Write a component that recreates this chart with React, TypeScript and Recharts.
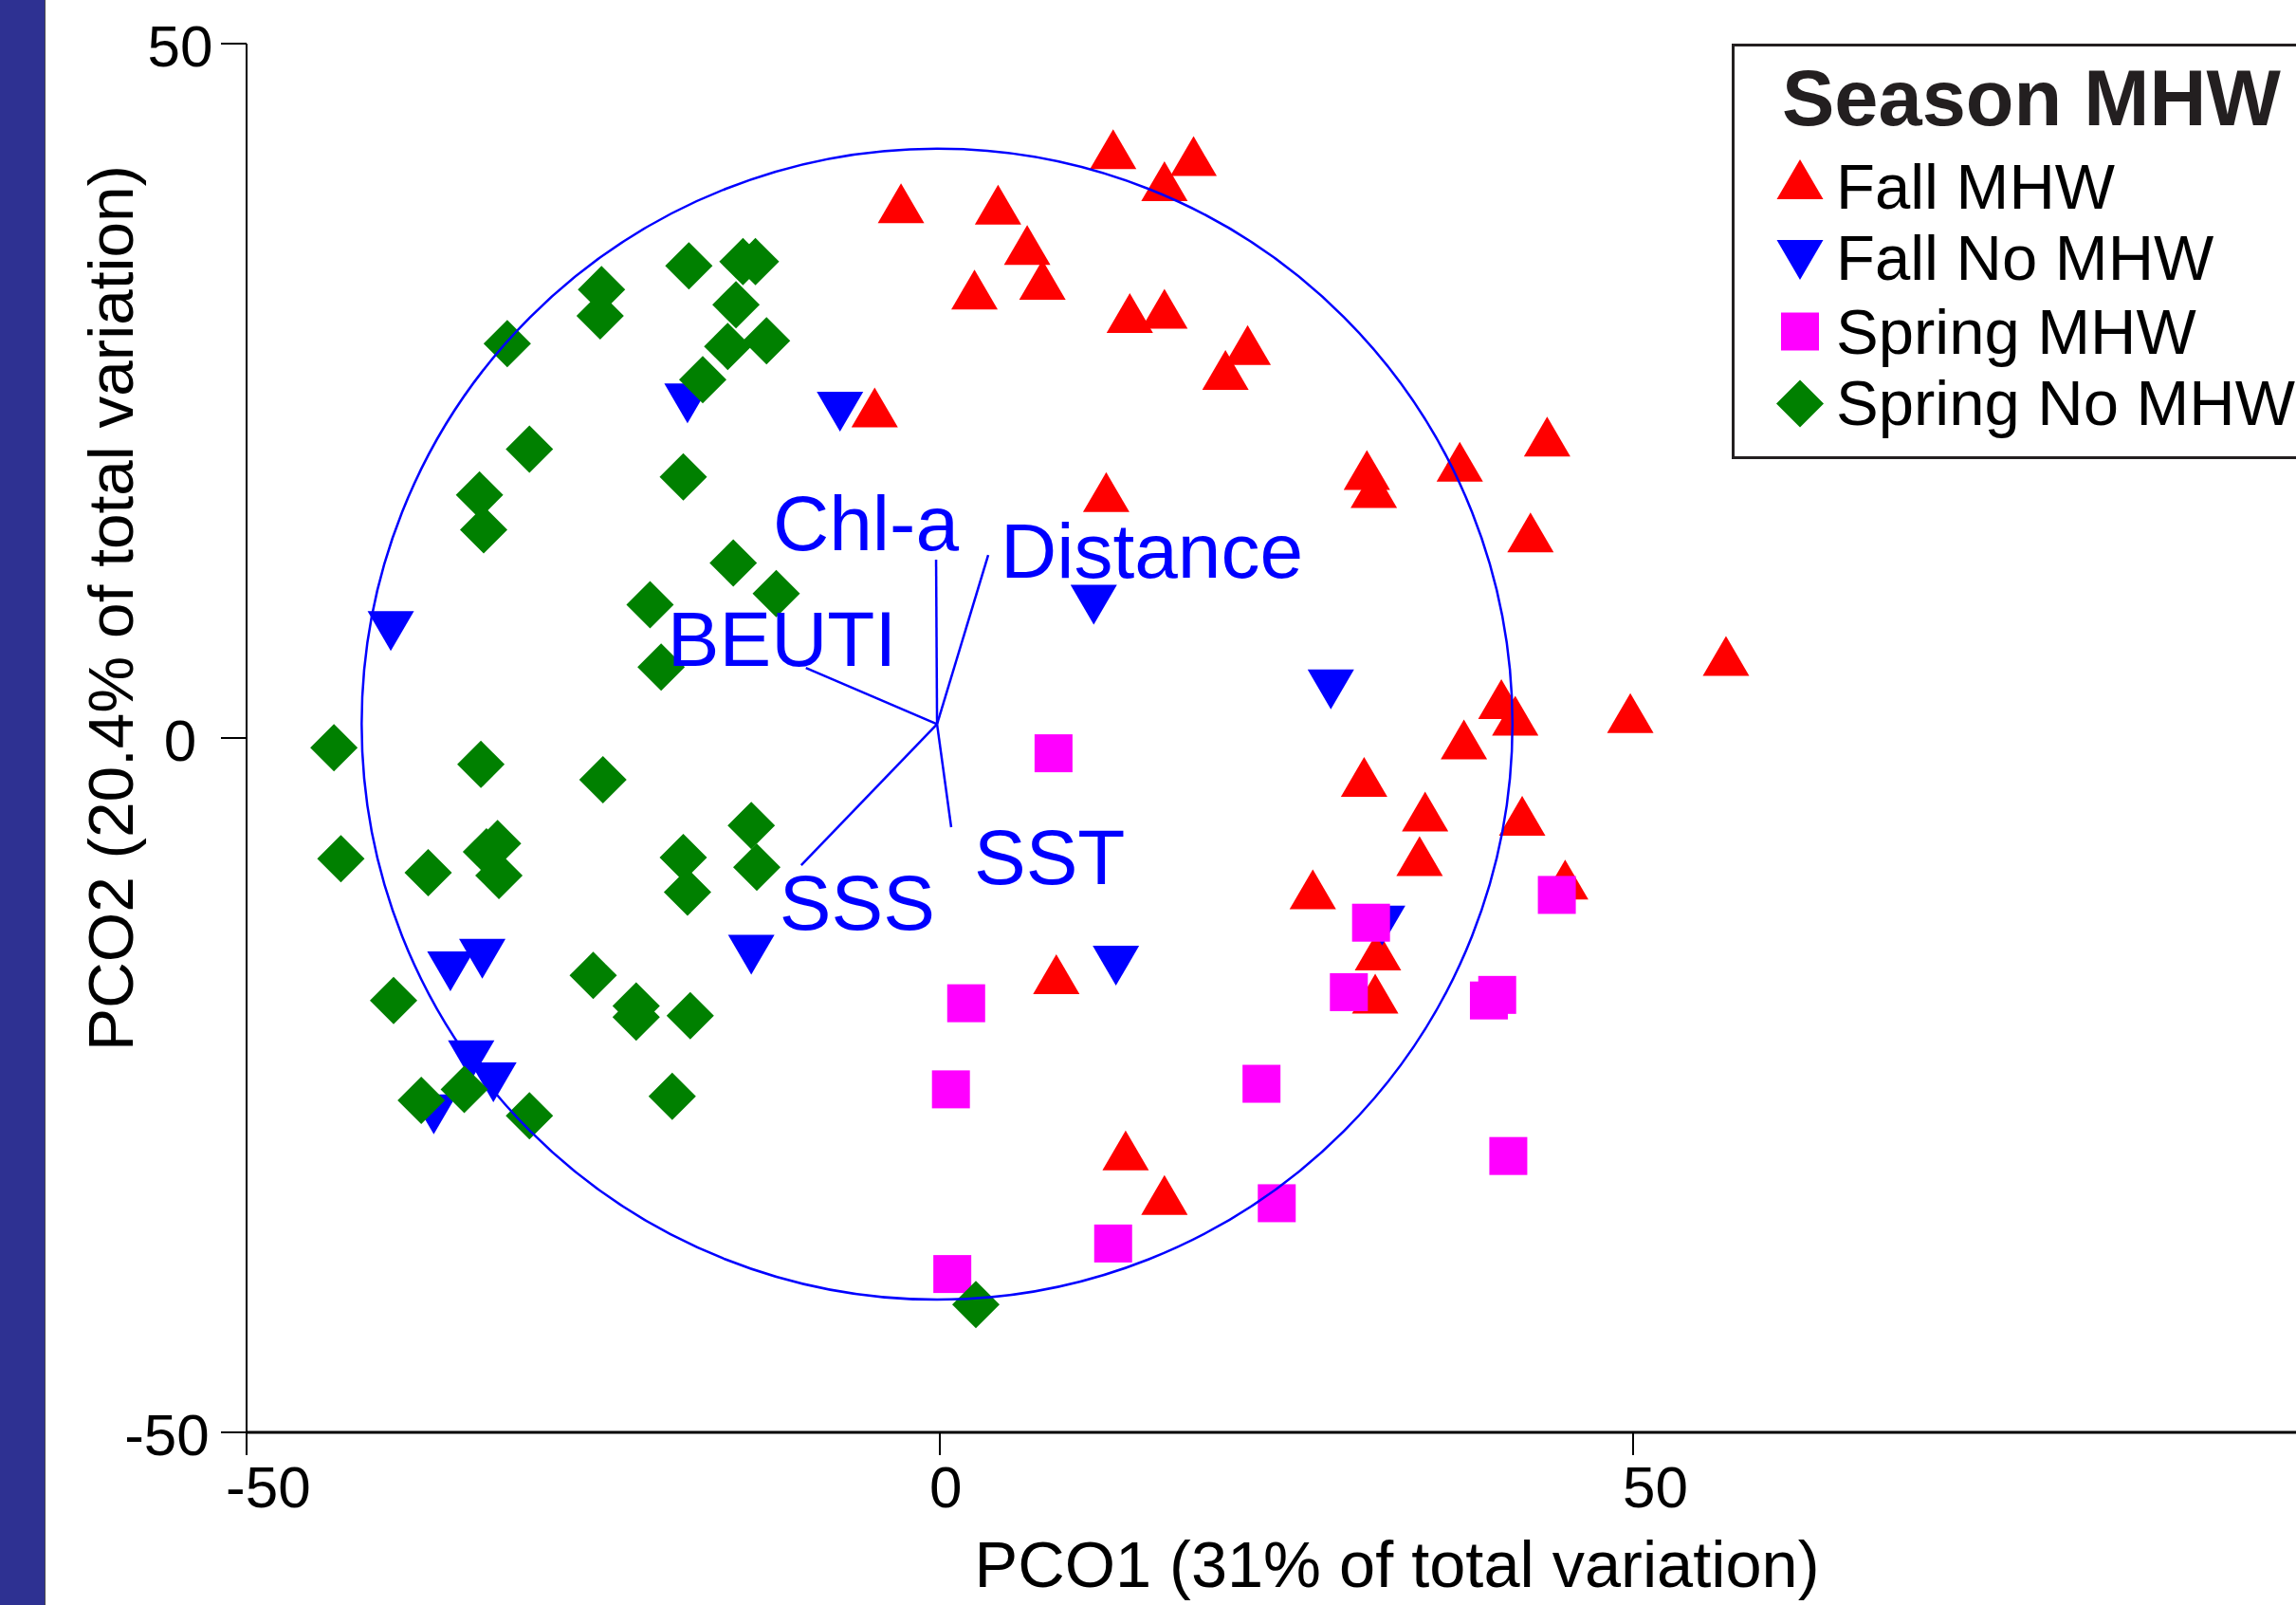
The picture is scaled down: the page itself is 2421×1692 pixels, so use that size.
import React from 'react';
import { ScatterChart, Scatter, XAxis, YAxis, ReferenceDot, ReferenceLine, Legend } from 'recharts';

// ---------------- DATA ----------------
// [PCO1, PCO2] pairs
const FALL_MHW: [number, number][] = [
  [12.5, 42.4], [18.3, 41.9], [16.2, 40.1], [-2.8, 38.5], [4.2, 38.4], [6.3, 35.5], [7.4, 33.0],
  [2.5, 32.3], [13.7, 30.6], [16.2, 30.9], [20.6, 26.5], [22.2, 28.3], [-4.7, 23.8], [43.8, 21.7],
  [37.5, 19.9], [30.8, 19.3], [31.3, 18.0], [12.0, 17.7], [42.6, 14.8], [56.7, 5.9], [40.5, 2.8],
  [41.5, 1.6], [49.8, 1.8], [37.8, -0.1], [30.6, -2.8], [35.0, -5.3], [42.0, -5.6], [34.6, -8.5],
  [45.1, -10.2], [26.9, -10.9], [31.6, -15.3], [31.4, -18.4], [8.4, -17.0], [13.4, -29.7], [16.2, -32.9],
];
const FALL_NO_MHW: [number, number][] = [
  [-18.2, 24.1], [-7.2, 23.5], [-39.6, 7.7], [11.1, 9.6], [28.2, 3.5], [31.9, -13.5], [12.7, -16.4],
  [-13.6, -15.6], [-35.3, -16.8], [-33.0, -15.9], [-33.8, -23.2], [-32.2, -24.8], [-36.5, -27.1],
];
const SPRING_MHW: [number, number][] = [
  [8.2, -1.1], [31.1, -13.3], [29.5, -18.3], [1.9, -19.1], [0.8, -25.3], [0.9, -38.6], [12.5, -36.4],
  [23.2, -24.9], [41.0, -30.1], [24.3, -33.5], [44.5, -11.3], [40.2, -18.5], [39.6, -18.9],
];
const SPRING_NO_MHW: [number, number][] = [
  [-18.1, 34.0], [-24.4, 32.3], [-24.5, 30.4], [-14.2, 34.3], [-13.3, 34.3], [-14.7, 31.2], [-31.2, 28.4],
  [-15.3, 28.2], [-12.5, 28.6], [-17.1, 25.8], [-29.6, 20.8], [-18.5, 18.8], [-33.2, 17.5], [-32.9, 15.0],
  [-14.9, 12.6], [-11.8, 10.4], [-20.9, 9.6], [-20.1, 5.1], [-43.7, -0.7], [-33.1, -1.9], [-24.3, -3.0],
  [-13.6, -6.3], [-43.2, -8.7], [-36.9, -9.7], [-32.7, -8.2], [-31.9, -7.6], [-31.8, -9.9], [-18.5, -8.6],
  [-18.2, -11.1], [-13.2, -9.3], [-39.4, -18.9], [-25.0, -17.1], [-21.9, -19.3], [-21.9, -20.1],
  [-18.0, -20.0], [-37.4, -26.1], [-34.3, -25.3], [-29.6, -27.2], [-19.3, -25.8], [2.6, -40.8],
];

const VECTOR_ORIGIN = { x: -0.2, y: 1.0 };
const VECTOR_NAMES = ['Chl-a', 'Distance', 'BEUTI', 'SSS', 'SST'];
const VECTOR_X = [-0.27, 3.49, -9.66, -10.0, 0.82];
const VECTOR_Y = [12.84, 13.18, 5.05, -9.16, -6.42];
const CIRCLE_RADIUS = 41.5; // in PCO units

const X_DOMAIN: [number, number] = [-50, 100];
const Y_DOMAIN: [number, number] = [-50, 50];
const X_TICKS = [-50, 0, 50, 100];
const Y_TICKS = [-50, 0, 50];
const X_TITLE = 'PCO1 (31% of total variation)';
const Y_TITLE = 'PCO2 (20.4% of total variation)';
const LEGEND_TITLE = 'Season MHW';
const SERIES_NAMES = ['Fall MHW', 'Fall No MHW', 'Spring MHW', 'Spring No MHW'];

// ---------------- STYLE / LAYOUT ----------------
const FONT = "'Liberation Sans', Arial, Helvetica, sans-serif";
const CHART_W = 2600;
const CHART_H = 1692;
const MARGIN = { top: 46, right: 147, bottom: 0, left: 0 };
const Y_AXIS_W = 260;
const X_AXIS_H = 182;
const PLOT_W = CHART_W - MARGIN.left - MARGIN.right - Y_AXIS_W;
const PX_PER_UNIT = PLOT_W / (X_DOMAIN[1] - X_DOMAIN[0]);
const BLUE = '#0000FF';

const toPts = (arr: [number, number][]) => arr.map(([x, y]) => ({ x, y }));

const TriUp = (p: any) => {
  const { cx, cy, fill } = p;
  if (cx == null || cy == null) return null;
  return <polygon points={`${cx - 24.5},${cy + 21} ${cx + 24.5},${cy + 21} ${cx},${cy - 21}`} fill={fill} />;
};
const TriDown = (p: any) => {
  const { cx, cy, fill } = p;
  if (cx == null || cy == null) return null;
  return <polygon points={`${cx - 24.5},${cy - 21} ${cx + 24.5},${cy - 21} ${cx},${cy + 21}`} fill={fill} />;
};
const Sq = (p: any) => {
  const { cx, cy, fill } = p;
  if (cx == null || cy == null) return null;
  return <rect x={cx - 20} y={cy - 20} width={40} height={40} fill={fill} />;
};
const Dia = (p: any) => {
  const { cx, cy, fill } = p;
  if (cx == null || cy == null) return null;
  return <polygon points={`${cx},${cy - 25} ${cx + 25},${cy} ${cx},${cy + 25} ${cx - 25},${cy}`} fill={fill} />;
};

const SERIES = [
  { name: SERIES_NAMES[0], data: toPts(FALL_MHW), color: '#FF0000', Shape: TriUp },
  { name: SERIES_NAMES[1], data: toPts(FALL_NO_MHW), color: '#0000FF', Shape: TriDown },
  { name: SERIES_NAMES[2], data: toPts(SPRING_MHW), color: '#FF00FF', Shape: Sq },
  { name: SERIES_NAMES[3], data: toPts(SPRING_NO_MHW), color: '#008000', Shape: Dia },
];

const VECTORS = VECTOR_NAMES.map((name, i) => ({ name, x: VECTOR_X[i], y: VECTOR_Y[i] }));
const LABEL_OFFSET: Record<string, [number, number]> = {
  'Chl-a': [-172, -10],
  Distance: [13, 24],
  BEUTI: [-146, -2],
  SSS: [-23, 68],
  SST: [24, 60],
};

const VectorLabel = (p: any) => {
  const { cx, cy, payload } = p;
  if (cx == null || cy == null) return null;
  const [dx, dy] = LABEL_OFFSET[payload.name] || [0, 0];
  return (
    <text x={cx + dx} y={cy + dy} fill={BLUE} fontSize={82} fontFamily={FONT}>
      {payload.name}
    </text>
  );
};

const XTick = (p: any) => {
  const { x, y, payload } = p;
  const v = payload.value;
  return (
    <text x={x - 11 - (v < 0 ? 11 : 0)} y={y + 55} textAnchor="start" fontSize={62} fontFamily={FONT} fill="#000">
      {v}
    </text>
  );
};
const YTick = (p: any) => {
  const { x, y, payload } = p;
  const v = payload.value;
  return (
    <text x={x - 43 - (v < 0 ? 14 : 0)} y={y + 2} dy="0.36em" textAnchor="middle" fontSize={62} fontFamily={FONT} fill="#000">
      {v}
    </text>
  );
};

const XTitle = () => (
  <text x={1473} y={1673} textAnchor="middle" fontSize={68.5} fontFamily={FONT} fill="#000">
    {X_TITLE}
  </text>
);
const YTitle = () => (
  <text x={140} y={641} transform="rotate(-90 140 641)" textAnchor="middle" fontSize={67.5} fontFamily={FONT} fill="#000">
    {Y_TITLE}
  </text>
);

const LegendBox = (props: any) => {
  const payload = (props.payload || []).filter((e: any) => SERIES_NAMES.includes(e.value));
  const rowBase = [174, 249, 327, 402];
  const symY = [143, 228, 303.5, 379.5];
  return (
    <svg width={700} height={438} style={{ display: 'block' }}>
      <rect x={1.5} y={1.5} width={697} height={435} fill="#fff" stroke="#231F20" strokeWidth={3} />
      <text x={53} y={86} fontSize={83} fontWeight="bold" fontFamily={FONT} fill="#231F20">
        {LEGEND_TITLE}
      </text>
      {payload.map((e: any, i: number) => {
        const s = SERIES.find((d) => d.name === e.value)!;
        const Shape = s.Shape;
        return (
          <g key={e.value}>
            <Shape cx={72} cy={symY[i]} fill={s.color} />
            <text x={110} y={rowBase[i]} fontSize={67} fontFamily={FONT} fill="#000">
              {e.value}
            </text>
          </g>
        );
      })}
    </svg>
  );
};

export default function App() {
  return (
    <div
      style={{
        position: 'absolute',
        left: 0,
        top: 0,
        width: 2421,
        height: 1692,
        overflow: 'hidden',
        background: '#fff',
      }}
    >
      <div
        style={{
          position: 'absolute',
          left: 0,
          top: 0,
          width: 47,
          height: 1692,
          background: '#2E3192',
          borderRight: '1px solid #4a4a4a',
          zIndex: 2,
        }}
      />
      <ScatterChart width={CHART_W} height={CHART_H} margin={MARGIN}>
        <XAxis
          type="number"
          dataKey="x"
          domain={X_DOMAIN}
          ticks={X_TICKS}
          allowDataOverflow
          height={X_AXIS_H}
          tickSize={24}
          tickMargin={0}
          axisLine={{ stroke: '#000', strokeWidth: 3 }}
          tickLine={{ stroke: '#000', strokeWidth: 2 }}
          tick={<XTick />}
          label={<XTitle />}
        />
        <YAxis
          type="number"
          dataKey="y"
          domain={Y_DOMAIN}
          ticks={Y_TICKS}
          allowDataOverflow
          width={Y_AXIS_W}
          tickSize={27}
          tickMargin={0}
          axisLine={{ stroke: '#000', strokeWidth: 2 }}
          tickLine={{ stroke: '#000', strokeWidth: 2 }}
          tick={<YTick />}
          label={<YTitle />}
        />
        {SERIES.map((s) => (
          <Scatter
            key={s.name}
            name={s.name}
            data={s.data}
            fill={s.color}
            isAnimationActive={false}
            shape={(p: any) => <s.Shape {...p} fill={s.color} />}
          />
        ))}
        <ReferenceDot
          x={VECTOR_ORIGIN.x}
          y={VECTOR_ORIGIN.y}
          r={CIRCLE_RADIUS * PX_PER_UNIT}
          fill="none"
          stroke={BLUE}
          strokeWidth={2.5}
          ifOverflow="visible"
        />
        {VECTORS.map((v) => (
          <ReferenceLine
            key={v.name}
            segment={[VECTOR_ORIGIN, { x: v.x, y: v.y }]}
            stroke={BLUE}
            strokeWidth={2.5}
            ifOverflow="visible"
          />
        ))}
        <Scatter
          name="vectors"
          data={VECTORS}
          legendType="none"
          isAnimationActive={false}
          shape={(p: any) => <VectorLabel {...p} />}
        />
        <Legend
          layout="horizontal"
          verticalAlign="middle"
          align="center"
          content={(p: any) => <LegendBox {...p} />}
          wrapperStyle={{ position: 'absolute', left: 1826, top: 46, width: 700, height: 438, margin: 0, padding: 0 }}
        />
      </ScatterChart>
    </div>
  );
}
